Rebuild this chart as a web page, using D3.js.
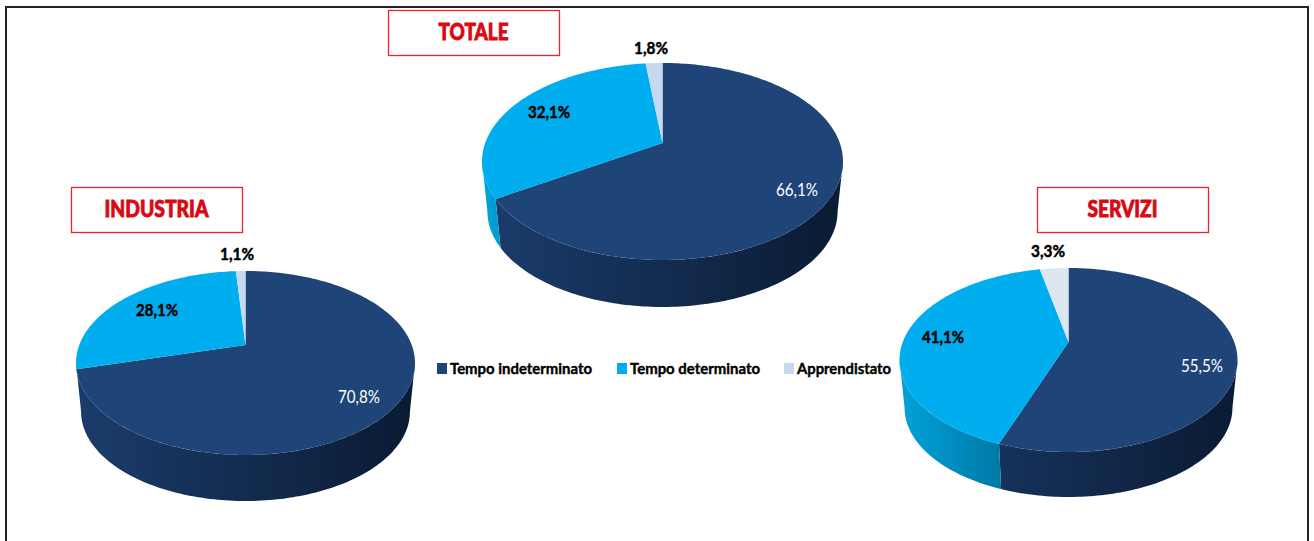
<!DOCTYPE html>
<html>
<head>
<meta charset="utf-8">
<script src="https://cdn.jsdelivr.net/npm/d3@7"></script>
<style>
  html, body { margin: 0; padding: 0; background: #fff; overflow: hidden; }
  text { font-family: Lato, "Open Sans", sans-serif; }
</style>
</head>
<body>
<div id="chart"></div>
<script>
// contract types, clockwise from 12 o'clock
var categories = ["Tempo indeterminato", "Tempo determinato", "Apprendistato"];
var totaleValues = [66.1, 32.1, 1.8];
var industriaValues = [70.8, 28.1, 1.1];
var serviziValues = [55.5, 41.1, 3.3];
var totaleLabels = ["66,1%", "32,1%", "1,8%"];
var industriaLabels = ["70,8%", "28,1%", "1,1%"];
var serviziLabels = ["55,5%", "41,1%", "3,3%"];

var width = 1314, height = 541;

var color = d3.scaleOrdinal().domain(categories).range(["#1f4478", "#00aeef", "#c6d9f0"]);
// side wall colours, left end and right end of the wall
var sideLeft = d3.scaleOrdinal().domain(categories).range(["#1b3c6c", "#00a2da", "#b0c0d8"]);
var sideRight = d3.scaleOrdinal().domain(categories).range(["#0a1b32", "#007aa6", "#90a0b8"]);

var svg = d3.select("#chart").append("svg")
  .attr("width", width)
  .attr("height", height);

// frame round the whole picture
svg.append("rect")
  .attr("x", 6).attr("y", 7)
  .attr("width", 1302).attr("height", 560)
  .attr("fill", "none").attr("stroke", "#222").attr("stroke-width", 2);

var defs = svg.append("defs");
var pie = d3.pie().sort(null).value(function(d) { return d.value; });

// one pie, drawn in perspective: the centre of the circle lands on (cx, cy),
// "back" and "front" are the distances to the far and near rim
function drawPie(name, values, labels, g) {
  var k = (g.front - g.back) / (g.front + g.back);
  var ry = g.front * (1 - k);
  var rx = g.halfWidth * Math.sqrt(1 - k * k);
  // the lower rim shrinks round the centre, so push it down to keep the real depth
  var drop = g.depth + g.front * (1 - g.taper);
  // angles of the left and right extremes of the rim, walls only show between them
  var wallFrom = Math.acos(-k), wallTo = 2 * Math.PI - wallFrom;

  function rim(a, scale, dy) {
    var v = -Math.cos(a), w = 1 - k * v;
    return [g.cx + scale * rx * Math.sin(a) / w, g.cy + dy + scale * ry * v / w];
  }
  function arcPoints(a0, a1, scale, dy) {
    var n = Math.max(2, Math.ceil((a1 - a0) / 0.02));
    return d3.range(n + 1).map(function(i) { return rim(a0 + (a1 - a0) * i / n, scale, dy); });
  }

  var line = d3.line();
  var data = values.map(function(v, i) { return {key: categories[i], value: v, label: labels[i]}; });
  var arcs = pie(data);
  var root = svg.append("g").attr("class", "pie-" + name);

  // side walls first, the top face covers whatever is at the back
  arcs.forEach(function(d, i) {
    var a0 = Math.max(d.startAngle, wallFrom);
    var a1 = Math.min(d.endAngle, wallTo);
    // a sliver of wall next to the extreme goes with the slice before it
    if (wallTo - a1 < 0.1) a1 = wallTo;
    if (wallTo - a0 < 0.1 || a1 <= a0) return;
    var upper = arcPoints(a0, a1, 1, 0);
    var lower = arcPoints(a0, a1, g.taper, drop).reverse();
    var xs = d3.extent(upper, function(p) { return p[0]; });
    var id = "side-" + name + "-" + i;
    // the shade runs over the whole pie for the big slice, over about 100px for the other
    var grad = defs.append("linearGradient").attr("id", id)
      .attr("gradientUnits", "userSpaceOnUse")
      .attr("x1", i === 0 ? g.cx - g.halfWidth : xs[0])
      .attr("x2", i === 0 ? g.cx + g.halfWidth : Math.max(xs[1], xs[0] + 100))
      .attr("y1", 0).attr("y2", 0);
    grad.append("stop").attr("offset", 0).attr("stop-color", sideLeft(d.data.key));
    grad.append("stop").attr("offset", 1).attr("stop-color", sideRight(d.data.key));
    root.append("path")
      .attr("d", line(upper.concat(lower)) + "Z")
      .attr("fill", "url(#" + id + ")");
  });

  // top face
  arcs.forEach(function(d, i) {
    var pts = [[g.cx, g.cy]].concat(arcPoints(d.startAngle, d.endAngle, 1, 0));
    root.append("path")
      .attr("d", line(pts) + "Z")
      .attr("fill", i === 2 ? g.pale : color(d.data.key));
  });

  // title box
  root.append("rect")
    .attr("x", g.box[0] + 0.5).attr("y", g.box[1] + 0.5)
    .attr("width", 171).attr("height", 45)
    .attr("fill", "#fff").attr("stroke", "#e8262d").attr("stroke-width", 1.3);
  root.append("text")
    .attr("x", g.box[0] + 85.5).attr("y", g.box[1] + 22.5)
    .attr("dy", "0.36em").attr("text-anchor", "middle")
    .attr("fill", "#d90812").attr("stroke", "#d90812").attr("stroke-width", 0.8)
    .attr("font-size", 22).attr("font-weight", 900)
    .attr("textLength", g.titleWidth).attr("lengthAdjust", "spacingAndGlyphs")
    .text(name);

  // value labels
  arcs.forEach(function(d, i) {
    var light = i === 0;
    root.append("text")
      .attr("x", g.labels[i][0]).attr("y", g.labels[i][1])
      .attr("dy", "0.36em").attr("text-anchor", "middle")
      .attr("fill", light ? "#fff" : "#000")
      .attr("stroke", light ? "none" : "#000").attr("stroke-width", 0.5)
      .attr("font-size", 17).attr("font-weight", light ? 400 : 700)
      .attr("textLength", d.data.label.length > 4 ? 42 : 34)
      .attr("lengthAdjust", "spacingAndGlyphs")
      .text(d.data.label);
  });
}

drawPie("TOTALE", totaleValues, totaleLabels, {
  cx: 662.5, cy: 143, back: 80, front: 117, halfWidth: 180.5, depth: 47, taper: 0.97,
  box: [388, 10], titleWidth: 70, pale: "#c6d9f0",
  labels: [[797, 190], [549, 112], [651, 48]]
});
drawPie("INDUSTRIA", industriaValues, industriaLabels, {
  cx: 245.5, cy: 345, back: 74, front: 110, halfWidth: 169.5, depth: 46, taper: 0.97,
  box: [71, 187], titleWidth: 104, pale: "#c6d9f0",
  labels: [[359, 397], [157, 310], [237, 254]]
});
drawPie("SERVIZI", serviziValues, serviziLabels, {
  cx: 1068.5, cy: 342, back: 74, front: 110, halfWidth: 169, depth: 45, taper: 0.97,
  box: [1037, 187], titleWidth: 70, pale: "#dce6f1",
  labels: [[1202, 366], [943, 337], [1048, 251]]
});

// legend
var legendX = d3.scaleOrdinal().domain(categories).range([437, 617, 784]);
var legendTextWidth = d3.scaleOrdinal().domain(categories).range([142, 130, 94]);
var legend = svg.append("g").attr("class", "legend")
  .selectAll("g").data(categories).enter().append("g")
  .attr("transform", function(d) { return "translate(" + legendX(d) + ",363)"; });
legend.append("rect")
  .attr("width", 10).attr("height", 11)
  .attr("fill", function(d) { return color(d); });
legend.append("text")
  .attr("x", 13).attr("y", 6).attr("dy", "0.36em")
  .attr("fill", "#000").attr("stroke", "#000").attr("stroke-width", 0.4)
  .attr("font-size", 15).attr("font-weight", 700)
  .attr("textLength", function(d) { return legendTextWidth(d); })
  .attr("lengthAdjust", "spacingAndGlyphs")
  .text(function(d) { return d; });
</script>
</body>
</html>
